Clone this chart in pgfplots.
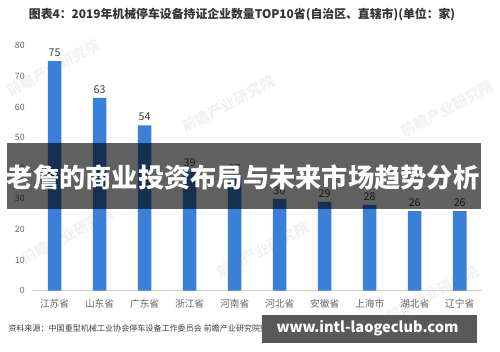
\documentclass[border=0pt]{standalone}
\usepackage{pgfplots}
\pgfplotsset{compat=1.18}
\usepackage{fontspec}
\setmainfont{Noto Sans CJK SC}
\definecolor{barblue}{HTML}{3A7FD8}
\definecolor{labelgray}{HTML}{404040}
\definecolor{tickgray}{HTML}{666666}
\definecolor{titlegray}{HTML}{333333}

\pgfplotstableread{
idx value
0 75
1 63
2 54
3 39
4 37
5 30
6 29
7 28
8 26
9 26
}\provincedata

\begin{document}
\begin{tikzpicture}[x=1pt,y=1pt]
% page background
\fill[white] (0,0) rectangle (500,362);

% faint watermarks
\foreach \wx/\wy in {55/292, 235/255, 460/250, 70/120, 270/105, 445/60}{
  \node[rotate=28, text=black, opacity=0.05, font=\fontsize{15}{15}\selectfont\bfseries] at (\wx,\wy) {前瞻产业研究院};
}

% title
\node[font=\fontsize{12.2}{13}\selectfont\bfseries, text=titlegray] at (249,347)
  {图表4：2019年机械停车设备持证企业数量TOP10省(自治区、直辖市)(单位：家)};

\begin{axis}[
  at={(33pt,63pt)}, anchor=south west,
  scale only axis, width=463pt, height=252pt,
  xmin=-0.5, xmax=9.5, ymin=0, ymax=80,
  axis x line=bottom, axis y line=left,
  axis line style={-},
  x axis line style={draw=black!18, line width=0.8pt},
  y axis line style={draw=none},
  tick style={draw=none},
  ytick={0,10,...,80},
  xtick={0,...,9},
  xticklabels={江苏省,山东省,广东省,浙江省,河南省,河北省,安徽省,上海市,湖北省,辽宁省},
  yticklabel style={font=\fontsize{9}{9}\selectfont, text=tickgray, xshift=-2pt},
  xticklabel style={font=\fontsize{10}{10}\selectfont, text=tickgray, yshift=-1pt},
  /pgf/number format/assume math mode=true,
  ybar, bar width=14pt,
  nodes near coords,
  nodes near coords style={font=\fontsize{11}{11}\selectfont, text=labelgray, yshift=1pt},
  clip=false,
]
\addplot[fill=barblue, draw=none] table[x=idx, y=value] {\provincedata};
\end{axis}

% source line
\node[anchor=west, font=\fontsize{8.3}{9}\selectfont, text=labelgray] at (5,24)
  {资料来源：中国重型机械工业协会停车设备工作委员会 前瞻产业研究院整理 @前瞻经济学人APP};

% overlay banner
\fill[black, opacity=0.62] (7,147) rectangle (495,215);
\node[font=\fontsize{27}{27}\selectfont\bfseries, text=white] at (250,179)
  {老詹的商业投资布局与未来市场趋势分析};

% site banner
\fill[black!65] (270,9) rectangle (491,38);
\node[font=\fontsize{15}{15}\selectfont\bfseries, text=white] at (378,24)
  {www.intl-laogeclub.com};
\end{tikzpicture}
\end{document}
